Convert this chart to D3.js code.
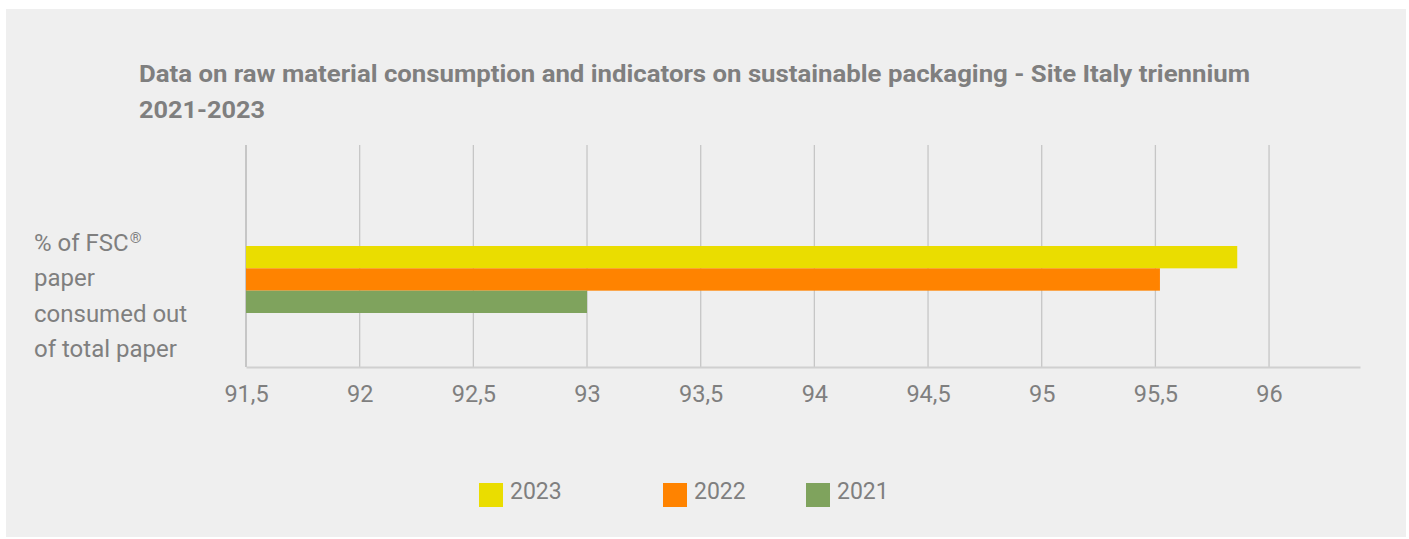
<!DOCTYPE html>
<html>
<head>
<meta charset="utf-8">
<script src="https://cdn.jsdelivr.net/npm/d3@7"></script>
<style>
  html, body { margin: 0; padding: 0; background: #ffffff; }
  svg { display: block; }
  text { font-family: Roboto, "Noto Sans", sans-serif; fill: #7f7f7f; }
</style>
</head>
<body>
<svg id="chart" width="1409" height="539"></svg>
<script>
// Data
const categories = ["% of FSC® paper consumed out of total paper"];
const categoryLines = [["% of FSC®", "paper", "consumed out", "of total paper"]];
const series = ["2023", "2022", "2021"];
const values2023 = [95.86];
const values2022 = [95.52];
const values2021 = [93.0];
const seriesValues = { "2023": values2023, "2022": values2022, "2021": values2021 };
const tickValues = [91.5, 92, 92.5, 93, 93.5, 94, 94.5, 95, 95.5, 96];
const colors = { "2023": "#eadd00", "2022": "#ff8300", "2021": "#7fa35d" };
const titleLines = [
  "Data on raw material consumption and indicators on sustainable packaging - Site Italy triennium",
  "2021-2023"
];

const svg = d3.select("#chart");

// Panel background
svg.append("rect")
  .attr("x", 6).attr("y", 9)
  .attr("width", 1400).attr("height", 528)
  .attr("fill", "#efefef");

// Title
const title = svg.append("g");
title.append("text")
  .attr("x", 139).attr("y", 82)
  .attr("font-size", 24).attr("font-weight", 700)
  .attr("fill", "#7a7a7a")
  .attr("textLength", 1111).attr("lengthAdjust", "spacingAndGlyphs")
  .text(titleLines[0]);
title.append("text")
  .attr("x", 139).attr("y", 118)
  .attr("font-size", 24).attr("font-weight", 700)
  .attr("fill", "#7a7a7a")
  .attr("textLength", 126).attr("lengthAdjust", "spacingAndGlyphs")
  .text(titleLines[1]);

// Plot area
const plot = { left: 246, right: 1360, top: 145, bottom: 367 };
const x = d3.scaleLinear().domain([91.5, 96.4]).range([plot.left, plot.right]);

const y0 = d3.scaleBand().domain(categories).range([246, 313]).padding(0);
const y1 = d3.scaleBand().domain(series).range([0, y0.bandwidth()]).padding(0);

// Vertical gridlines
svg.append("g")
  .selectAll("line")
  .data(tickValues)
  .join("line")
  .attr("x1", d => x(d)).attr("x2", d => x(d))
  .attr("y1", plot.top).attr("y2", plot.bottom)
  .attr("stroke", "#c6c6c6")
  .attr("stroke-width", (d, i) => i === 0 ? 2 : 1.3);

// Bars
const barGroup = svg.append("g");
categories.forEach((cat, ci) => {
  series.forEach(s => {
    const v = seriesValues[s][ci];
    barGroup.append("rect")
      .attr("x", x(91.5))
      .attr("y", y0(cat) + y1(s))
      .attr("width", x(v) - x(91.5))
      .attr("height", y1.bandwidth())
      .attr("fill", colors[s]);
  });
});

// X axis
const xAxis = d3.axisBottom(x)
  .tickValues(tickValues)
  .tickSize(0)
  .tickPadding(18)
  .tickFormat(d => d3.format(".1~f")(d).replace(".", ","));
const axisG = svg.append("g")
  .attr("transform", `translate(0,${plot.bottom})`)
  .call(xAxis);
axisG.select(".domain").attr("stroke", "#d0d0d0").attr("stroke-width", 2);
axisG.selectAll("text")
  .attr("font-size", 23.5)
  .attr("font-family", "Roboto, 'Noto Sans', sans-serif")
  .attr("fill", "#7f7f7f")
  .attr("dy", "0.71em");

// Category label: one text per line, ® raised as superscript
categories.forEach((cat, ci) => {
  const g = svg.append("g");
  categoryLines[ci].forEach((line, li) => {
    const t = g.append("text")
      .attr("x", 34)
      .attr("y", 251 + li * 35.3)
      .attr("font-size", 24);
    const parts = line.split("®");
    t.append("tspan").text(parts[0]);
    if (parts.length > 1) {
      t.append("tspan")
        .attr("font-size", 15)
        .attr("dy", -8)
        .attr("dx", 1)
        .text("®");
      if (parts[1]) t.append("tspan").attr("dy", 8).text(parts[1]);
    }
  });
});

// Legend
const legendX = { "2023": 479, "2022": 663, "2021": 806 };
const legend = svg.append("g");
series.forEach(s => {
  legend.append("rect")
    .attr("x", legendX[s]).attr("y", 483)
    .attr("width", 24).attr("height", 24)
    .attr("fill", colors[s]);
  legend.append("text")
    .attr("x", legendX[s] + 31).attr("y", 499)
    .attr("font-size", 23)
    .text(s);
});
</script>
</body>
</html>
